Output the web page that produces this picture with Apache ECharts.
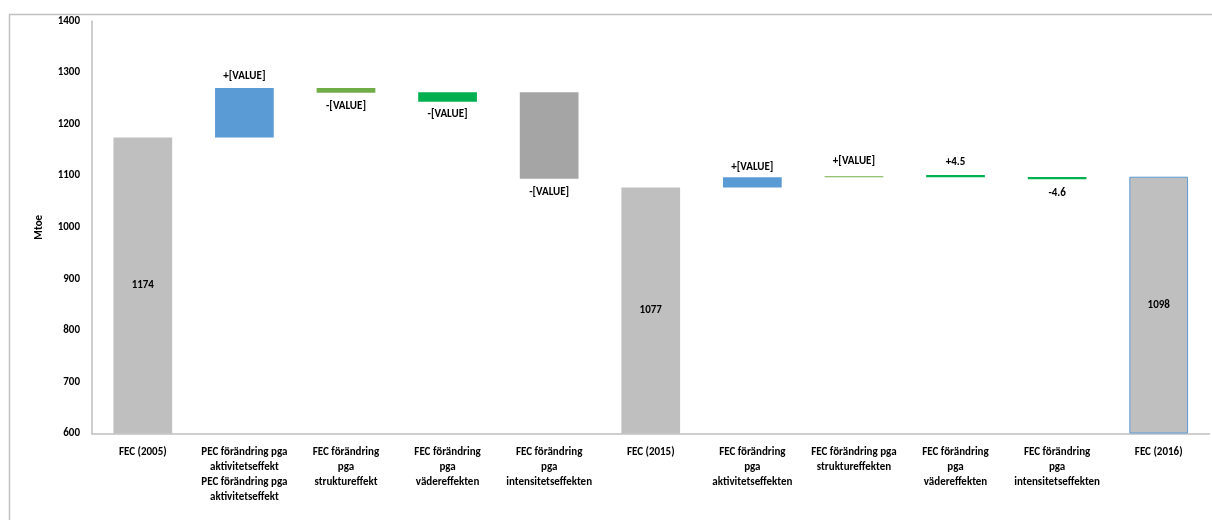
<!DOCTYPE html>
<html>
<head>
<meta charset="utf-8">
<script src="https://cdn.jsdelivr.net/npm/echarts@6/dist/echarts.min.js"></script>
<style>html,body{margin:0;padding:0;background:#fff}#c{width:1212px;height:520px}</style>
</head>
<body>
<div id="c"></div>
<script>
const categories = [
  "FEC (2005)",
  "PEC förändring pga\naktivitetseffekt\nPEC förändring pga\naktivitetseffekt",
  "FEC förändring\npga\nstruktureffekt",
  "FEC förändring\npga\nvädereffekten",
  "FEC förändring\npga\nintensitetseffekten",
  "FEC (2015)",
  "FEC förändring\npga\naktivitetseffekten",
  "FEC förändring pga\nstruktureffekten",
  "FEC förändring\npga\nvädereffekten",
  "FEC förändring\npga\nintensitetseffekten",
  "FEC (2016)"
];
// null start = total bar drawn from the axis floor
const barStart = [null, 1174, 1270, 1262, 1262, null, 1077, 1097, 1097, 1097.6, null];
const barEnd   = [1174, 1270, 1261, 1243.5, 1094, 1077, 1097, 1099, 1101.5, 1093, 1098];
const labelText = ["1174", "+[VALUE]", "-[VALUE]", "-[VALUE]", "-[VALUE]", "1077", "+[VALUE]", "+[VALUE]", "+4.5", "-4.6", "1098"];
const labelPos  = ["inside", "top", "bottom", "bottom", "bottom", "inside", "top", "top", "top", "bottom", "inside"];
const barColor  = ["#bfbfbf", "#5b9bd5", "#70ad47", "#00b050", "#a5a5a5", "#bfbfbf", "#5b9bd5", "#70ad47", "#00b050", "#00b050", "#bfbfbf"];
const yTicks = { min: 600, max: 1400, interval: 100 };

const FONT = "Carlito, 'Liberation Sans Narrow', Lato, sans-serif";
const labelDist = [0, 6, 8, 7, 8, 0, 4, 9, 7, 8, 0];

const baseData = barEnd.map((e, i) => barStart[i] === null ? yTicks.min : Math.min(barStart[i], e));
const visData = barEnd.map((e, i) => {
  const h = barStart[i] === null ? e - yTicks.min : Math.abs(e - barStart[i]);
  const item = {
    value: h,
    itemStyle: { color: barColor[i] },
    label: { show: true, position: labelPos[i], distance: labelDist[i], formatter: labelText[i] }
  };
  if (i === categories.length - 1) {
    item.itemStyle.borderColor = "#5b9bd5";
    item.itemStyle.borderWidth = 1;
  }
  return item;
});

const chart = echarts.init(document.getElementById('c'), null, { renderer: 'canvas' });
chart.setOption({
  animation: false,
  backgroundColor: '#fff',
  graphic: [{
    type: 'rect', left: 7, top: 12, silent: true,
    shape: { width: 1240, height: 560 },
    style: { fill: 'none', stroke: '#c0c0c0', lineWidth: 1.5 }
  }],
  grid: { left: 92, top: 21, right: 2.5, bottom: 86.5, containLabel: false },
  xAxis: {
    type: 'category',
    data: categories,
    axisLine: { show: true, lineStyle: { color: '#bfbfbf', width: 1.5 } },
    axisTick: { show: false },
    axisLabel: {
      interval: 0, margin: 11, color: '#000', fontFamily: FONT, fontWeight: 'bold',
      fontSize: 11, lineHeight: 15, align: 'center'
    }
  },
  yAxis: {
    type: 'value',
    min: yTicks.min, max: yTicks.max, interval: yTicks.interval,
    name: 'Mtoe', nameLocation: 'middle', nameGap: 47, nameRotate: 90,
    nameTextStyle: { color: '#000', fontFamily: FONT, fontWeight: 'bold', fontSize: 11 },
    axisLine: { show: true, lineStyle: { color: '#bfbfbf', width: 1.5 } },
    axisTick: { show: false },
    splitLine: { show: false },
    axisLabel: { margin: 12, color: '#000', fontFamily: FONT, fontWeight: 'bold', fontSize: 11,
      formatter: v => String(v) }
  },
  series: [
    {
      type: 'bar', stack: 'w', data: baseData, barWidth: '57.8%',
      itemStyle: { color: 'transparent' }, silent: true
    },
    {
      type: 'bar', stack: 'w', data: visData, barWidth: '57.8%',
      label: { color: '#000', fontFamily: FONT, fontWeight: 'bold', fontSize: 11 }
    }
  ]
});
</script>
</body>
</html>
